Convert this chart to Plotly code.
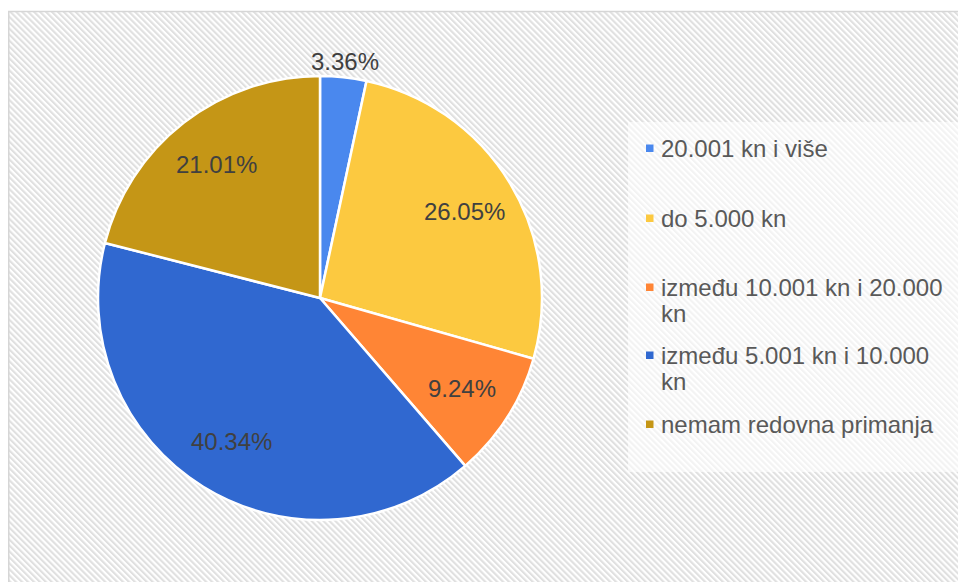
import base64
import math
import plotly.graph_objects as go

W, H = 958, 582

labels = ["20.001 kn i više", "do 5.000 kn", "između 10.001 kn i 20.000 kn",
          "između 5.001 kn i 10.000 kn", "nemam redovna primanja"]
legend_lines = [["20.001 kn i više"], ["do 5.000 kn"],
                ["između 10.001 kn i 20.000", "kn"],
                ["između 5.001 kn i 10.000", "kn"], ["nemam redovna primanja"]]
values = [3.36, 26.05, 9.24, 40.34, 21.01]
colors = ["#4A88EE", "#FCC940", "#FF8535", "#3068D0", "#C59616"]

FONT = "Liberation Sans, Arial, sans-serif"


def px(x):
    """page pixel x -> paper fraction"""
    return x / W


def py(y):
    """page pixel y -> paper fraction"""
    return 1 - y / H


# pie geometry (page pixels)
cx, cy, r = 320, 298, 222

fig = go.Figure()
fig.add_trace(go.Pie(
    labels=labels, values=values, sort=False, direction="clockwise", rotation=0,
    marker=dict(colors=colors, line=dict(color="white", width=2.5)),
    textinfo="none",
    domain=dict(x=[px(cx - r), px(cx + r)], y=[py(cy + r), py(cy - r)]),
    showlegend=False, hoverinfo="label+percent",
))

# hatched background
bx, by = 8, 11
bw, bh = W - bx, H - by
svg = (f'<svg xmlns="http://www.w3.org/2000/svg" width="{bw}" height="{bh}" '
       f'viewBox="0 0 {bw} {bh}"><defs><pattern id="h" width="4.2" height="4.2" '
       f'patternUnits="userSpaceOnUse" patternTransform="rotate(-45)">'
       f'<rect width="2.1" height="4.2" fill="#e0e0e0"/></pattern></defs>'
       f'<rect width="100%" height="100%" fill="#ffffff"/>'
       f'<rect width="100%" height="100%" fill="url(#h)"/></svg>')
src = "data:image/svg+xml;base64," + base64.b64encode(svg.encode()).decode()

shapes = [
    dict(type="rect", xref="paper", yref="paper", x0=px(628), x1=px(975),
         y0=py(472), y1=py(122), fillcolor="rgba(255,255,255,0.6)",
         line=dict(width=0), layer="below"),
    dict(type="rect", xref="paper", yref="paper", x0=px(8.75), x1=px(990),
         y0=py(600), y1=py(11.5), fillcolor="rgba(0,0,0,0)",
         line=dict(color="#d6d6d6", width=1.5), layer="above"),
]

annotations = []

# percentage labels, placed from the cumulative values
total = sum(values)
cum = 0.0
for v in values:
    mid = (cum + v / 2) / total * 2 * math.pi
    cum += v
    if v / total < 0.05:
        d = r + 16
    else:
        d = 0.76 * r
    lx = cx + d * math.sin(mid)
    ly = cy - d * math.cos(mid)
    annotations.append(dict(text=f"{v:.2f}%", x=px(lx), y=py(ly), xref="paper",
                            yref="paper", xanchor="center", yanchor="middle",
                            showarrow=False,
                            font=dict(family=FONT, size=24, color="#404040")))

# legend
legend_y = [148, 218, 287, 355, 424]
line_gap = 26
for lines, c, yy in zip(legend_lines, colors, legend_y):
    shapes.append(dict(type="rect", xref="paper", yref="paper",
                       x0=px(646), x1=px(653.5), y0=py(yy + 4), y1=py(yy - 3.5),
                       fillcolor=c, line=dict(width=0)))
    for k, t in enumerate(lines):
        annotations.append(dict(text=t, x=px(659), y=py(yy + k * line_gap),
                                xref="paper", yref="paper", xanchor="left",
                                yanchor="middle", align="left", showarrow=False,
                                font=dict(family=FONT, size=24, color="#595959")))

fig.update_layout(
    width=W, height=H, margin=dict(l=0, r=0, t=0, b=0),
    paper_bgcolor="white", plot_bgcolor="rgba(0,0,0,0)",
    images=[dict(source=src, xref="paper", yref="paper", x=px(bx), y=py(by),
                 sizex=bw / W, sizey=bh / H, xanchor="left",
                 yanchor="top", sizing="stretch", layer="below")],
    shapes=shapes, annotations=annotations, showlegend=False,
)

fig.write_html(
    "out.html",
    config={"displayModeBar": False},
    post_script="document.body.style.margin='0';document.body.style.overflow='hidden';",
)
